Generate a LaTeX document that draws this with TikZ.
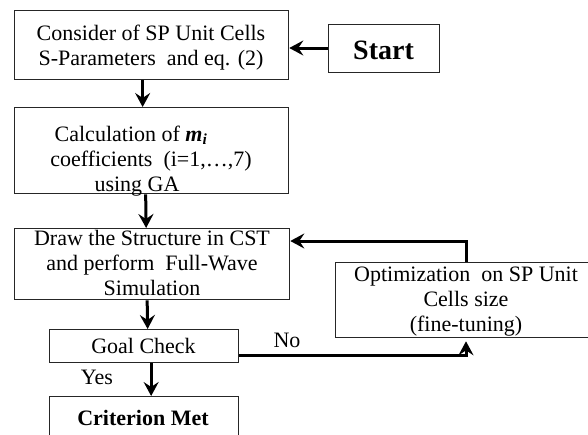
\documentclass[tikz,border=0pt]{standalone}
\usepackage{fontspec}
\setmainfont{Liberation Serif}
\usetikzlibrary{arrows.meta}
\begin{document}
\begin{tikzpicture}[x=1pt,y=-1pt,
  box/.style={draw=black!85,line width=1.3pt,inner sep=0pt,anchor=north west},
  txt/.style={font=\fontsize{22}{25}\selectfont,align=center,inner sep=0pt},
  arr/.style={line width=3pt,-{Stealth[length=14pt,width=15pt,inset=5pt]}},
  ln/.style={line width=3pt}]
\useasboundingbox (0,0) rectangle (588,434);
\clip (0,0) rectangle (588,434);
% boxes
\node[box,minimum width=274pt,minimum height=69pt] (b1) at (14,10) {};
\node[box,minimum width=111pt,minimum height=48pt] (st) at (328,24) {};
\node[box,minimum width=274pt,minimum height=86pt] (b2) at (14,107) {};
\node[box,minimum width=275pt,minimum height=71pt] (b3) at (14,228) {};
\node[box,minimum width=262pt,minimum height=75pt] (op) at (335,262) {};
\node[box,minimum width=189pt,minimum height=33pt] (gc) at (49,329) {};
\node[box,minimum width=189pt,minimum height=60pt] (cm) at (49,396) {};
% texts
\node[txt] (t1) at (151,48) {Consider of SP Unit Cells\\S-Parameters\ \ and eq. (2)};
\node[txt,font=\fontsize{28}{30}\selectfont\bfseries] (t2) at (383.5,50) {Start};
\node[txt] (t3) at (151,161) {Calculation of \textbf{\textit{m\textsubscript{i}}}\hspace*{40pt}\\coefficients\ \ (i=1,\dots,7)\\using GA\hspace*{28pt}};
\node[txt] (t4) at (152,263) {Draw the Structure in CST\\and perform\ \ Full-Wave\\Simulation};
\node[txt] (t5) at (466,302) {Optimization\ \ on SP Unit\\Cells size\\(fine-tuning)};
\node[txt] (t6) at (143.5,346) {Goal Check};
\node[txt,font=\fontsize{22}{25}\selectfont\bfseries] (t7) at (143,418) {Criterion Met};
\node[txt] (no) at (287,340) {No};
\node[txt] (yes) at (97,377) {Yes};
% connectors
\draw[arr] (st.west |- 0,48) -- (b1.east |- 0,48);
\draw[arr] ([xshift=-9pt]b1.south) -- ([xshift=-9pt]b2.north);
\draw[arr] ([xshift=-6pt]b2.south) -- ([xshift=-6pt]b3.north);
\draw[arr] ([xshift=-5pt]b3.south) -- ([xshift=3.5pt]gc.north);
\draw[arr] ([xshift=7pt]gc.south) -- ([xshift=7pt]cm.north);
\coordinate (c1) at (466,355);
\draw[arr] (gc.east |- c1) -- (c1) -- ([yshift=-3pt]c1 |- op.south);
\coordinate (c2) at (466,241);
\draw[arr] (c2 |- op.north) -- (c2) -- (c2 -| b3.east);
\end{tikzpicture}
\end{document}
